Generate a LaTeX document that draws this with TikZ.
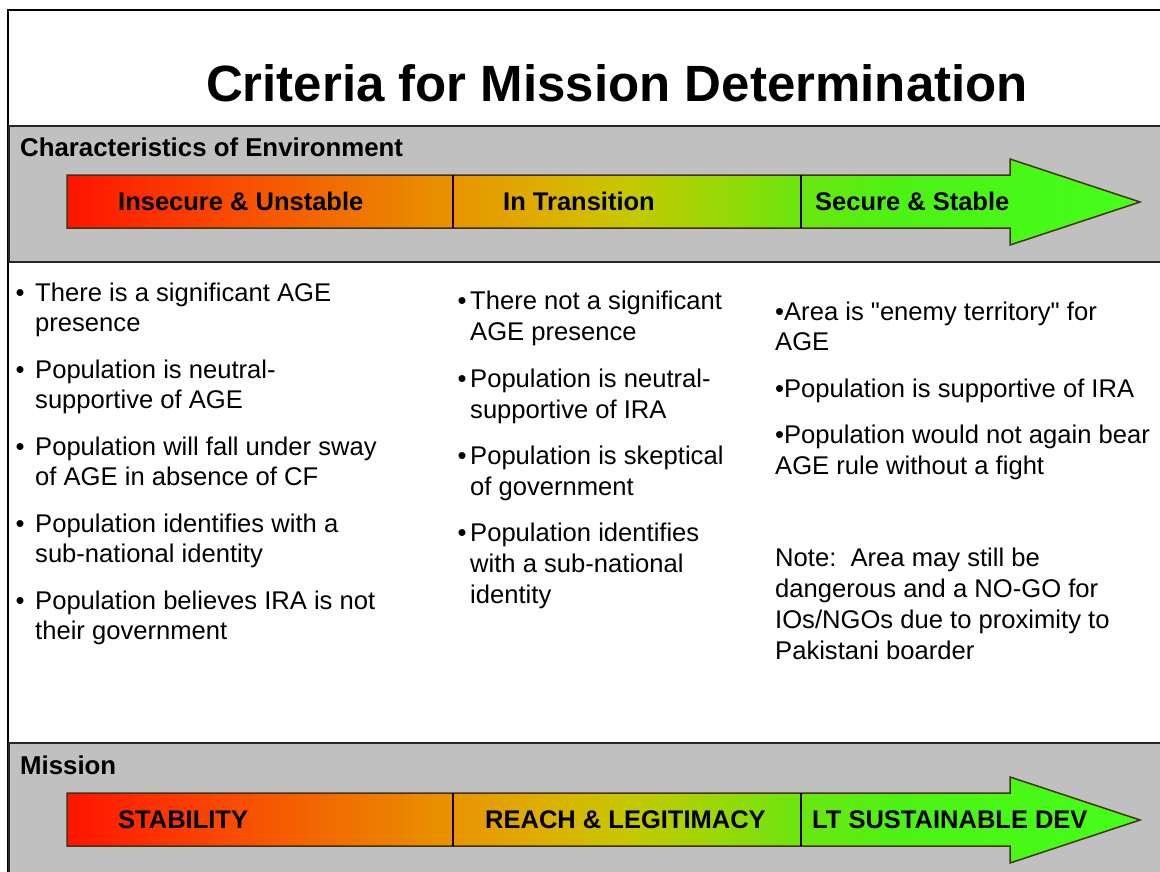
\documentclass[tikz,border=0pt]{standalone}
\usepackage{fontspec}
\setmainfont{Liberation Sans}
\definecolor{bandgray}{RGB}{192,192,192}
\definecolor{barline}{RGB}{70,50,20}
\pgfdeclarehorizontalshading{heat}{100bp}{rgb(0bp)=(1,0.08,0); rgb(25bp)=(1,0.08,0); rgb(33.5bp)=(0.97,0.32,0); rgb(43bp)=(0.91,0.58,0); rgb(47bp)=(0.87,0.68,0); rgb(51bp)=(0.78,0.78,0); rgb(55bp)=(0.62,0.84,0.02); rgb(59bp)=(0.42,0.9,0.06); rgb(64bp)=(0.3,0.95,0.08); rgb(75bp)=(0.27,1,0.1); rgb(100bp)=(0.27,1,0.1)}
\newcommand{\sq}{{\addfontfeature{Ligatures=TeXOff}"}}
\tikzset{
  frame/.style={draw=black, line width=1.5pt},
  band/.style={fill=bandgray, draw=black!85, line width=1.3pt},
  bar/.style={shading=heat, draw=barline, line width=1.5pt, line join=miter},
  sep/.style={draw=black!90!red, line width=2pt},
  title/.style={anchor=base, inner sep=0pt, font=\fontsize{51}{56}\selectfont\bfseries},
  hdr/.style={anchor=base west, inner sep=0pt, font=\fontsize{25.8}{30}\selectfont\bfseries},
  lbl/.style={anchor=base west, inner sep=0pt, font=\fontsize{25.5}{30}\selectfont\bfseries},
  txt/.style={anchor=base west, inner sep=0pt, font=\fontsize{25.6}{30}\selectfont},
  dot/.style={anchor=base, inner sep=0pt, font=\fontsize{25.6}{30}\selectfont}
}
\begin{document}
\begin{tikzpicture}[x=1pt,y=-1pt]
\useasboundingbox (0,0) rectangle (1160,871);
\clip (0,0) rectangle (1160,871);
\fill[white] (0,0) rectangle (1160,871);
\draw[frame] (8,10) rectangle (1175,885);
\draw[band] (9,126) rectangle (1175,262);
\draw[band] (9,743) rectangle (1175,885);
\node[title] (title) at (617,101) {Criteria for Mission Determination};
\node[hdr] (env) at (20,156) {Characteristics of Environment};
\node[hdr] (mis) at (20,774) {Mission};
\draw[bar] (67,175) -- (1010,175) -- (1010,159) -- (1140,202) -- (1010,245) -- (1010,228) -- (67,228) -- cycle;
\draw[bar] (67,793) -- (1010,793) -- (1010,777) -- (1140,820) -- (1010,863) -- (1010,846) -- (67,846) -- cycle;
\draw[sep] (453,175) -- (453,228) (801,175) -- (801,228);
\draw[sep] (453,793) -- (453,846) (801,793) -- (801,846);
\draw
(118,210) node [lbl] (e1) {Insecure \& Unstable}
(503,210) node [lbl] (e2) {In Transition}
(815,210) node [lbl] (e3) {Secure \& Stable}
(118,828) node [lbl] (m1) {STABILITY}
(485,828) node [lbl] (m2) {REACH \& LEGITIMACY}
(812,828) node [lbl] (m3) {LT SUSTAINABLE DEV};
\foreach \x/\y [count=\i] in {20/301,20/378,20/455,20/532,20/609,462/309,462/387,462/464,462/541}
  \node[dot] (b\i) at (\x,\y) {•};
\foreach \x/\y/\t [count=\i] in {
  35/301/{There is a significant AGE},
  35/331/{presence},
  35/378/{Population is neutral-},
  35/408/{supportive of AGE},
  35/455/{Population will fall under sway},
  35/485/{of AGE in absence of CF},
  35/532/{Population identifies with a},
  35/562/{sub-national identity},
  35/609/{Population believes IRA is not},
  35/639/{their government},
  470/309/{There not a significant},
  470/340/{AGE presence},
  470/387/{Population is neutral-},
  470/418/{supportive of IRA},
  470/464/{Population is skeptical},
  470/495/{of government},
  470/541/{Population identifies},
  470/572/{with a sub-national},
  470/603/{identity},
  775/320/{•Area is \sq enemy territory\sq{} for},
  775/350/{AGE},
  775/397/{•Population is supportive of IRA},
  775/443/{•Population would not again bear},
  775/474/{AGE rule without a fight},
  775/566/{Note:\ \ Area may still be},
  775/597/{dangerous and a NO-GO for},
  775/628/{IOs/NGOs due to proximity to},
  775/659/{Pakistani boarder}}
  \node[txt] (t\i) at (\x,\y) {\t};
\end{tikzpicture}
\end{document}
